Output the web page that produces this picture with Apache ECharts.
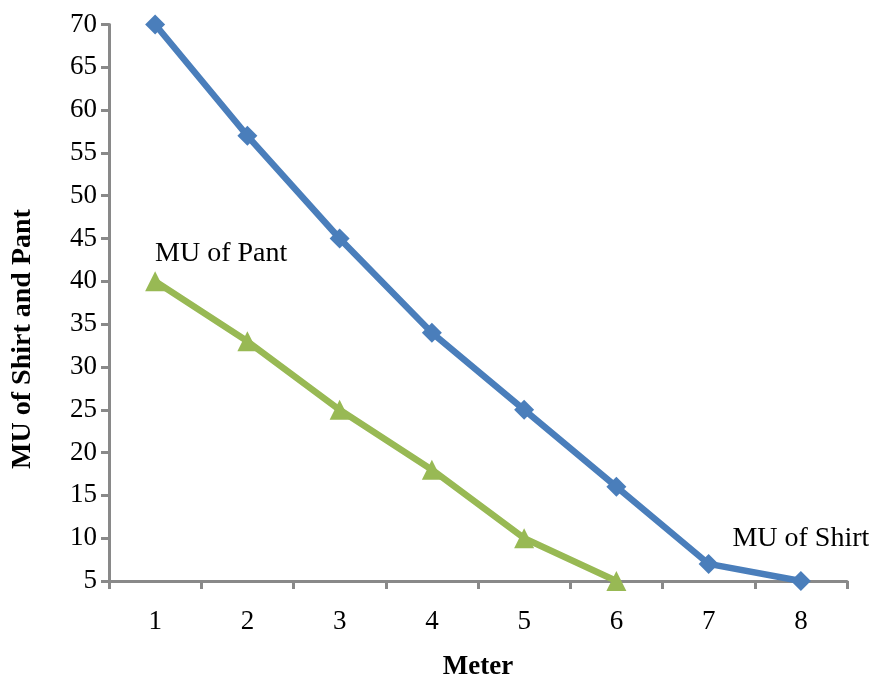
<!DOCTYPE html>
<html><head><meta charset="utf-8">
<script src="https://cdn.jsdelivr.net/npm/echarts@6/dist/echarts.min.js"></script>
<style>html,body{margin:0;padding:0;background:#fff}#c{width:869px;height:676px}</style>
</head><body><div id="c"></div>
<script>
var categories = ['1','2','3','4','5','6','7','8'];
var shirt = [70, 57, 45, 34, 25, 16, 7, 5];
var pant = [40, 33, 25, 18, 10, 5];
var yMin = 5, yMax = 70, yStep = 5;

var font = '"Liberation Serif","Times New Roman",serif';
var chart = echarts.init(document.getElementById('c'));
var shirtData = shirt.map(function(v,i){
  if (i === shirt.length-1) return {value:v, label:{show:true, formatter:'MU of Shirt', position:'top', offset:[0,-13], color:'#000', fontFamily:font, fontSize:28}};
  return v;
});
var pantData = pant.map(function(v,i){
  if (i === 0) return {value:v, label:{show:true, formatter:'MU of Pant', position:'top', offset:[66,1], color:'#000', fontFamily:font, fontSize:28}};
  return v;
});
chart.setOption({
  animation:false,
  grid:{left:109, right:22, top:24.5, bottom:95, containLabel:false, outerBoundsMode:'none'},
  xAxis:{type:'category', data:categories, boundaryGap:true,
    name:'Meter', nameLocation:'middle', nameGap:73,
    nameTextStyle:{fontFamily:font, fontSize:27, fontWeight:'bold', color:'#000'},
    axisLine:{lineStyle:{color:'#898989', width:3}},
    axisTick:{show:true, length:8, lineStyle:{color:'#898989', width:3}},
    axisLabel:{fontFamily:font, fontSize:27, color:'#000', margin:27},
    splitLine:{show:false}},
  yAxis:{type:'value', min:yMin, max:yMax, interval:yStep,
    axisLine:{show:true, lineStyle:{color:'#898989', width:3}},
    axisTick:{show:true, length:8, lineStyle:{color:'#898989', width:3}},
    axisLabel:{fontFamily:font, fontSize:27, color:'#000', margin:12},
    splitLine:{show:false}},
  graphic:[{type:'text', x:23, y:339, rotation:Math.PI/2,
    style:{text:'MU of Shirt and Pant', font:'bold 28px '+font, fill:'#000', align:'center', verticalAlign:'middle'}}],
  series:[
    {type:'line', data:shirtData, symbol:'diamond', symbolSize:20, itemStyle:{color:'#4A7EBB'},
     lineStyle:{color:'#4A7EBB', width:6.5}, z:3},
    {type:'line', data:pantData, symbol:'triangle', symbolSize:20, itemStyle:{color:'#98B954'},
     lineStyle:{color:'#98B954', width:6.5}, z:2}
  ]
});
</script></body></html>
